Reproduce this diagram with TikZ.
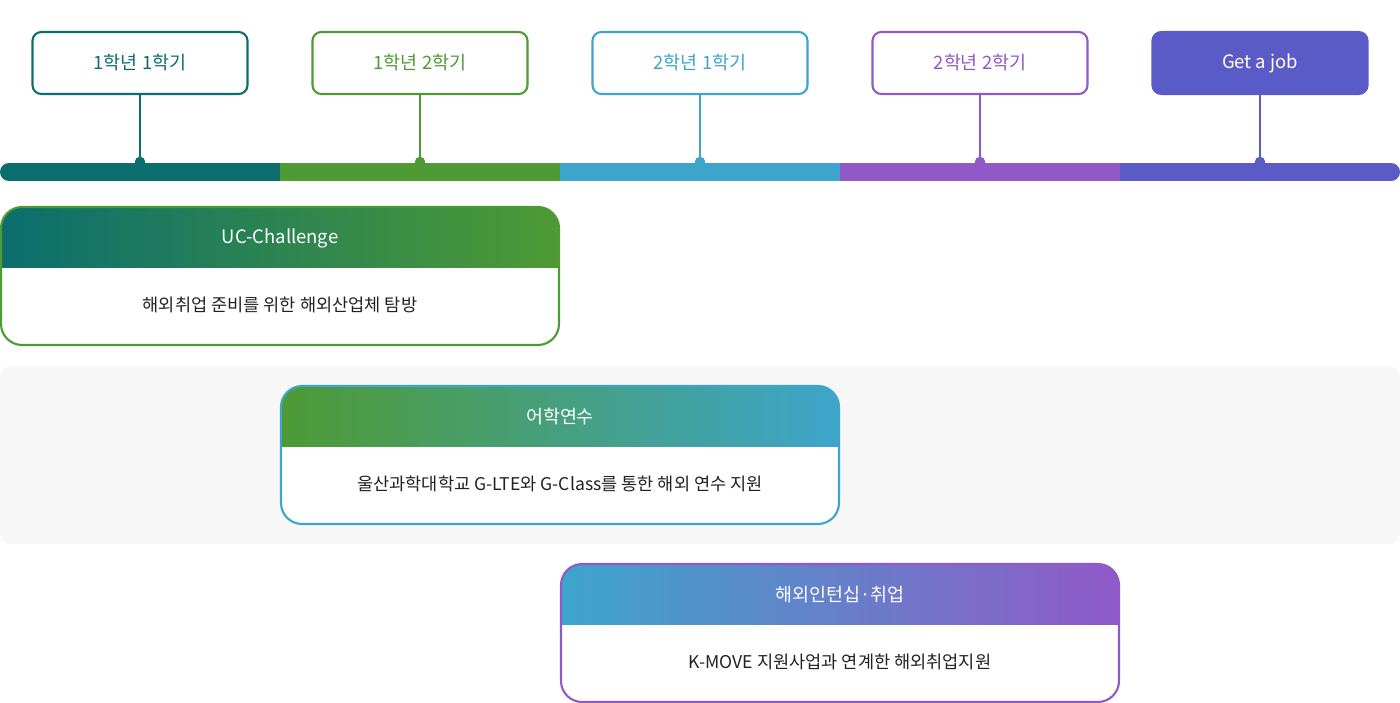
\documentclass[tikz,border=0pt]{standalone}
\usepackage{fontspec}
\setmainfont{Noto Sans CJK KR}
\definecolor{cTeal}{HTML}{0B6E6E}
\definecolor{cGreen}{HTML}{4E9A34}
\definecolor{cBlue}{HTML}{3DA5CB}
\definecolor{cPurple}{HTML}{9159C8}
\definecolor{cIndigo}{HTML}{5B5BC8}
\definecolor{cText}{HTML}{222222}
\definecolor{cPanel}{HTML}{F7F7F7}
\tikzset{
  term/.style={draw=#1, line width=1.2pt, rounded corners=5pt, text=#1,
    minimum width=215\px, minimum height=62\px, font=\fontsize{10.5}{12}\selectfont},
  stem/.style={draw=#1, line width=1.1pt},
  dot/.style={circle, fill=#1, inner sep=0pt, minimum size=6pt},
  cardtext/.style={text=cText, font=\fontsize{10}{12}\selectfont},
  cardhead/.style={text=white, font=\fontsize{10.5}{12}\selectfont}
}
\newlength{\px}\setlength{\px}{0.02cm}
\newcommand{\card}[6]{% x, y, left col, right col, title, body
  \begin{scope}
    \clip[rounded corners=12pt] (#1,#2) rectangle ++(558,138);
    \fill[white] (#1,#2) rectangle ++(558,138);
    \shade[left color=#3, right color=#4] (#1,#2) rectangle ++(558,60);
  \end{scope}
  \draw[#4, line width=1.2pt, rounded corners=12pt] (#1,#2) rectangle ++(558,138);
  \node[cardhead] (h#1) at (#1+279,#2+31) {#5};
  \node[cardtext] (b#1) at (#1+279,#2+98) {#6};
}
\begin{document}
\begin{tikzpicture}[x=0.02cm, y=-0.02cm]
\useasboundingbox (0,0) rectangle (1400,703);
% timeline bar
\begin{scope}
  \clip[rounded corners=9\px] (0,163) rectangle (1400,181);
  \foreach \c [count=\i from 0] in {cTeal,cGreen,cBlue,cPurple,cIndigo}
    \fill[\c] (\i*280,163) rectangle ++(280,18);
\end{scope}
% terms
\node[term=cTeal] (t1) at (140,63) {1학년 1학기};
\node[term=cGreen] (t2) at (420,63) {1학년 2학기};
\node[term=cBlue] (t3) at (700,63) {2학년 1학기};
\node[term=cPurple] (t4) at (980,63) {2학년 2학기};
\node[term=cIndigo, fill=cIndigo, text=white] (t5) at (1260,63) {Get a job};
\foreach \n/\c [count=\i from 0] in {t1/cTeal,t2/cGreen,t3/cBlue,t4/cPurple,t5/cIndigo}{
  \node[dot=\c] (d\i) at (140+\i*280,162) {};
  \draw[stem=\c] (\n.south) -- (d\i.center);
}
% panel
\fill[cPanel, rounded corners=6pt] (0,366) rectangle (1400,544);
% cards
\card{1}{207}{cTeal}{cGreen}{UC-Challenge}{해외취업 준비를 위한 해외산업체 탐방}
\card{281}{386}{cGreen}{cBlue}{어학연수}{울산과학대학교 G-LTE와 G-Class를 통한 해외 연수 지원}
\card{561}{564}{cBlue}{cPurple}{해외인턴십·취업}{K-MOVE 지원사업과 연계한 해외취업지원}
\end{tikzpicture}
\end{document}
